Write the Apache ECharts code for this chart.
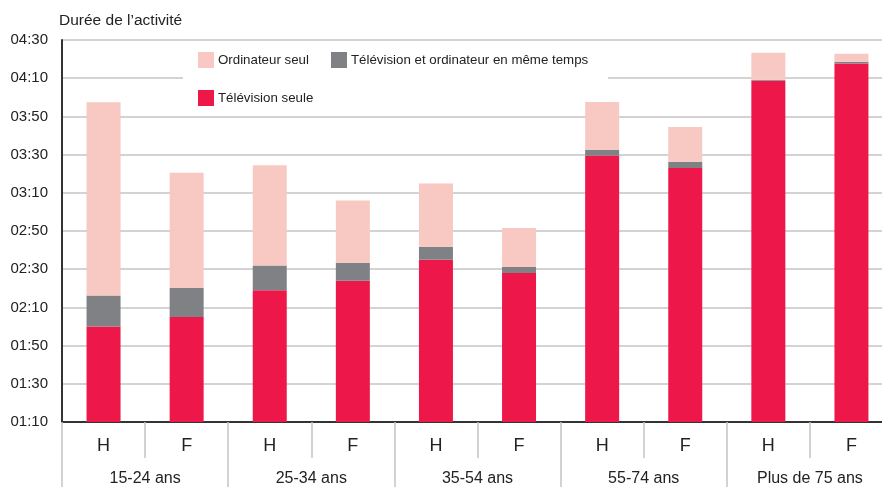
<!DOCTYPE html>
<html>
<head>
<meta charset="utf-8">
<script src="https://cdn.jsdelivr.net/npm/echarts@6/dist/echarts.min.js"></script>
<style>
html,body{margin:0;padding:0;background:#fff;overflow:hidden;width:882px;height:487px;}
#chart{width:882px;height:487px;overflow:hidden;}
</style>
</head>
<body>
<div id="chart"></div>
<script>
// Values in minutes
var sexes = ['H','F','H','F','H','F','H','F','H','F'];
var groups = ['15-24 ans','25-34 ans','35-54 ans','55-74 ans','Plus de 75 ans'];
var tvSeule = [120, 125, 139, 144, 155, 148, 209.5, 203, 248.7, 257.7];
var tvEtOrdi = [16.2, 15.2, 13, 9.4, 6.8, 3.1, 3, 3.2, 0.5, 0.9];
var ordiSeul = [101.2, 60.3, 52.4, 32.6, 33.1, 20.5, 25.1, 18.3, 14.1, 4.2];
var yMin = 70, yMax = 270, yStep = 20;

var FONT = '"Liberation Sans", Arial, sans-serif';
var C_TV = '#ED1849', C_BOTH = '#808184', C_ORDI = '#F8C9C2';

function fmt(v){
  var h = Math.floor(v/60), m = Math.round(v%60);
  return (h<10?'0':'')+h+':'+(m<10?'0':'')+m;
}

var chart = echarts.init(document.getElementById('chart'));
function legendAt(name, left, top){
  return {
    data:[name], left:left, top:top, itemWidth:16, itemHeight:16, itemGap:0,
    icon:'rect', padding:0, selectedMode:false,
    textStyle:{fontFamily:FONT, fontSize:13.3, color:'#222', padding:[2,0,0,-1]}
  };
}
chart.setOption({
  animation:false,
  backgroundColor:'#fff',
  title:{text:'Durée de l’activité', left:59, top:13, padding:0,
    textStyle:{fontFamily:FONT, fontSize:15.5, fontWeight:'normal', color:'#222'}},
  graphic:[{type:'rect', shape:{x:183, y:42, width:425, height:72}, style:{fill:'#fff'}, z:1}],
  legend:[
    legendAt('Ordinateur seul', 198, 52),
    legendAt('Télévision et ordinateur en même temps', 331, 52),
    legendAt('Télévision seule', 198, 90)
  ],
  grid:{left:62, width:831, top:40, height:382, containLabel:false, outerBoundsMode:'none'},
  xAxis:[
    {type:'category', data:sexes, position:'bottom',
     axisLine:{show:true, lineStyle:{color:'#333', width:2}},
     axisTick:{show:true, length:36, interval:0, lineStyle:{color:'#c4c4c4', width:1.5}},
     axisLabel:{fontFamily:FONT, fontSize:18, color:'#222', margin:15, interval:0}},
    {type:'category', data:groups, position:'bottom', offset:36,
     axisLine:{show:false},
     axisTick:{show:true, length:32, interval:0, lineStyle:{color:'#c4c4c4', width:1.5}},
     axisLabel:{fontFamily:FONT, fontSize:16, color:'#222', margin:13, interval:0}}
  ],
  yAxis:{type:'value', min:yMin, max:yMax, interval:yStep,
    axisLine:{show:true, lineStyle:{color:'#333', width:2}},
    axisTick:{show:false},
    splitLine:{show:true, lineStyle:{color:'#c4c4c4', width:1.5}},
    axisLabel:{fontFamily:FONT, fontSize:15, color:'#222', margin:14, formatter:fmt}},
  series:[
    {name:'Télévision seule', type:'bar', stack:'t', data:tvSeule, barWidth:34, itemStyle:{color:C_TV}},
    {name:'Télévision et ordinateur en même temps', type:'bar', stack:'t', data:tvEtOrdi, barWidth:34, itemStyle:{color:C_BOTH}},
    {name:'Ordinateur seul', type:'bar', stack:'t', data:ordiSeul, barWidth:34, itemStyle:{color:C_ORDI}}
  ]
});
</script>
</body>
</html>
